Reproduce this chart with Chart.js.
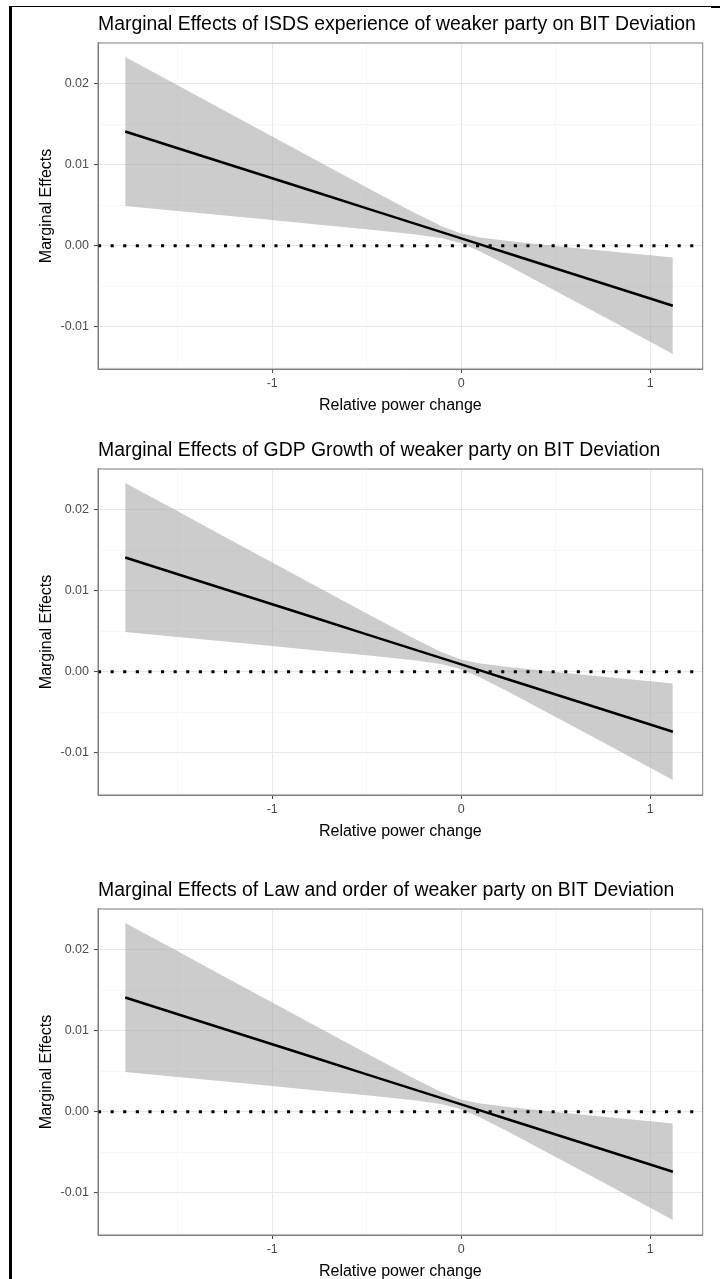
<!DOCTYPE html>
<html>
<head>
<meta charset="utf-8">
<script src="https://cdn.jsdelivr.net/npm/chart.js@4/dist/chart.umd.min.js"></script>
<style>
  html, body { margin: 0; padding: 0; background: #fff; overflow: hidden; }
  #page { position: relative; width: 725px; height: 1279px; overflow: hidden; }
  .panel { position: absolute; left: 0; width: 725px; height: 419px; }
  .rule { position: absolute; background: #000; }
</style>
</head>
<body>
<div id="page">
  <div class="rule" style="left:10px; top:6px; width:701px; height:1.2px;"></div>
  <div class="rule" style="left:711px; top:6px; width:9px; height:2px;"></div>
  <div class="rule" style="left:9px; top:6px; width:2.5px; height:1273px;"></div>
</div>
<script>
// Estimated marginal effect of each moderator across relative power change
const powerChange    = [-1.778, -1.5, -1.25, -1, -0.75, -0.5, -0.25, -0.1, 0, 0.1, 0.25, 0.5, 0.75, 1, 1.12];
const marginalEffect = [0.01410, 0.01204, 0.01019, 0.00833, 0.00648, 0.00462, 0.00277, 0.00165, 0.00091, 0.00017, -0.00095, -0.00280, -0.00466, -0.00651, -0.00740];
const upperBound     = [0.02330, 0.01979, 0.01664, 0.01349, 0.01034, 0.00720, 0.00412, 0.00239, 0.00152, 0.00103, 0.00058, -0.00003, -0.00061, -0.00117, -0.00144];
const lowerBound     = [0.00491, 0.00429, 0.00373, 0.00318, 0.00261, 0.00204, 0.00142, 0.00092, 0.00030, -0.00069, -0.00247, -0.00557, -0.00870, -0.01185, -0.01336];

const panelTitles = [
  'Marginal Effects of ISDS experience of weaker party on BIT Deviation',
  'Marginal Effects of GDP Growth of weaker party on BIT Deviation',
  'Marginal Effects of Law and order of weaker party on BIT Deviation'
];

// Axis breaks and labels
const xMajorTicks  = [-1, 0, 1];
const xTickLabels  = ['-1', '0', '1'];
const xMinorTicks  = [-1.5, -0.5, 0.5];
const yMajorTicks  = [-0.01, 0, 0.01, 0.02];
const yTickLabels  = ['-0.01', '0.00', '0.01', '0.02'];
const yMinorTicks  = [-0.015, -0.005, 0.005, 0.015, 0.025];
const referenceLevel = [0, 0];

const xLimits = [-1.922, 1.278];
const yLimits = [-0.0152, 0.02502];
const panelTops = [0, 426, 866];

const FONT = "'Liberation Sans', Arial, Helvetica, sans-serif";

const pts = ys => powerChange.map((x, i) => ({ x: x, y: ys[i] }));
const isMajor = (list, v) => list.some(m => Math.abs(m - v) < 1e-9);

// Panel frame drawn around the plotting area
const framePlugin = {
  id: 'panelFrame',
  afterDraw(chart) {
    const { ctx, chartArea: a } = chart;
    ctx.save();
    ctx.strokeStyle = '#7f7f7f';
    ctx.lineWidth = 1;
    ctx.strokeRect(a.left, a.top, a.right - a.left, a.bottom - a.top);
    ctx.restore();
  }
};

function makeScale(axis, major, labels, minor, limits) {
  return {
    type: 'linear',
    min: limits[0],
    max: limits[1],
    afterBuildTicks(scale) {
      scale.ticks = major.concat(minor).sort((a, b) => a - b).map(v => ({ value: v }));
    },
    afterFit(scale) {
      if (axis === 'x') scale.height = 50; else scale.width = 68;
    },
    ticks: {
      autoSkip: false,
      maxRotation: 0,
      padding: axis === 'x' ? 3 : 5,
      color: '#4d4d4d',
      font: { family: FONT, size: 12.5 },
      callback(v) {
        const i = major.findIndex(m => Math.abs(m - v) < 1e-9);
        return i >= 0 ? labels[i] : '';
      }
    },
    grid: {
      drawTicks: true,
      tickLength: 4,
      color: c => (c.tick && isMajor(major, c.tick.value)) ? '#e8e8e8' : '#f2f2f2',
      lineWidth: c => (c.tick && isMajor(major, c.tick.value)) ? 1.1 : 0.6,
      tickColor: c => (c.tick && isMajor(major, c.tick.value)) ? '#444' : 'rgba(0,0,0,0)',
      tickWidth: 1
    },
    border: { display: true, color: '#7f7f7f', width: 1 },
    title: {
      display: true,
      text: axis === 'x' ? 'Relative power change' : 'Marginal Effects',
      color: '#000',
      font: { family: FONT, size: 16 },
      padding: axis === 'x' ? { top: 0, bottom: 4 } : { top: 7.4, bottom: 0 }
    }
  };
}

panelTitles.forEach((title, p) => {
  const canvas = document.createElement('canvas');
  canvas.className = 'panel';
  canvas.style.top = panelTops[p] + 'px';
  canvas.width = 725;
  canvas.height = 419;
  document.getElementById('page').appendChild(canvas);

  new Chart(canvas, {
    type: 'line',
    data: {
      datasets: [
        { data: pts(upperBound), order: 3, borderWidth: 0, pointRadius: 0, fill: false, borderColor: 'rgba(0,0,0,0)' },
        { data: pts(lowerBound), order: 2, borderWidth: 0, pointRadius: 0, fill: '-1', borderColor: 'rgba(0,0,0,0)',
          backgroundColor: 'rgba(153,153,153,0.5)' },
        { data: pts(marginalEffect), order: 1, borderWidth: 2.5, pointRadius: 0, borderColor: '#000', fill: false },
        { data: [{ x: xLimits[0], y: referenceLevel[0] }, { x: xLimits[1], y: referenceLevel[1] }], order: 0,
          borderWidth: 3, borderDash: [3.1, 9.5], borderCapStyle: 'butt', pointRadius: 0,
          borderColor: '#000', fill: false }
      ]
    },
    options: {
      responsive: false,
      animation: false,
      events: [],
      layout: { padding: { left: 30, right: 22.3, top: 0, bottom: 0 } },
      elements: { line: { tension: 0 } },
      plugins: {
        legend: { display: false },
        tooltip: { enabled: false },
        title: {
          display: true,
          text: title,
          align: 'start',
          fullSize: false,
          color: '#000',
          font: { family: FONT, size: 19.4, weight: 'normal' },
          padding: { top: 13, bottom: 6.7 }
        }
      },
      scales: {
        x: makeScale('x', xMajorTicks, xTickLabels, xMinorTicks, xLimits),
        y: makeScale('y', yMajorTicks, yTickLabels, yMinorTicks, yLimits)
      }
    },
    plugins: [framePlugin]
  });
});
</script>
</body>
</html>
